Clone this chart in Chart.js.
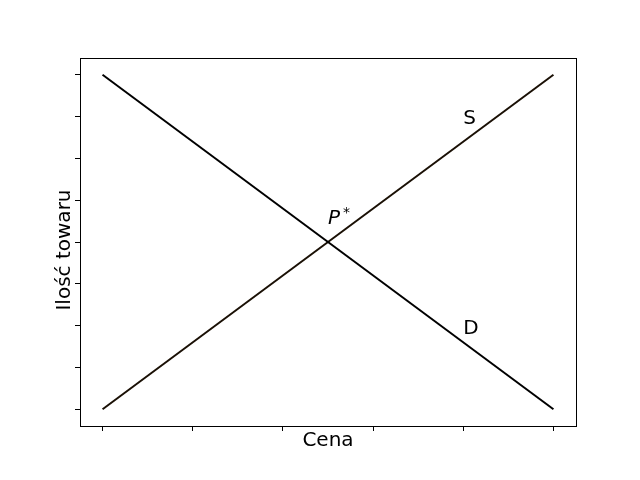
<!DOCTYPE html>
<html>
<head>
<meta charset="utf-8">
<script src="https://cdn.jsdelivr.net/npm/chart.js@4/dist/chart.umd.min.js"></script>
<style>
  body { margin: 0; background: #fff; }
  #wrap { width: 640px; height: 480px; }
</style>
</head>
<body>
<div id="wrap"><canvas id="chart" width="640" height="480"></canvas></div>
<script>
// Supply / demand data
const price = [0, 10];
const demand = [8, 0];
const supply = [0, 8];

const xTicks = [0, 2, 4, 6, 8, 10];
const yTicks = [0, 1, 2, 3, 4, 5, 6, 7, 8];

// curve labels: [text, x, y] in data units (baseline)
const curveLabels = [
    ['S', 8, 6.82],
    ['D', 8, 1.8]
];
const eqLabel = { x: 5, y: 4.42 };

const xTitle = 'Cena';
const yTitle = 'Ilość towaru';

const FONT = '"DejaVu Sans", sans-serif';

// Frame, labels and axis titles
const decorPlugin = {
    id: 'decor',
    afterDraw(chart) {
        const ctx = chart.ctx;
        const area = chart.chartArea;
        const xs = chart.scales.x;
        const ys = chart.scales.y;

        ctx.save();
        ctx.strokeStyle = '#000';
        ctx.lineWidth = 1;
        ctx.strokeRect(Math.round(area.left) + 0.5, Math.round(area.top) + 0.5,
            Math.round(area.right - area.left), Math.round(area.bottom - area.top));

        ctx.fillStyle = '#000';
        ctx.font = '20px ' + FONT;
        ctx.textBaseline = 'alphabetic';
        ctx.textAlign = 'left';
        curveLabels.forEach(([t, x, y]) => {
            ctx.fillText(t, xs.getPixelForValue(x), ys.getPixelForValue(y));
        });

        // P* label
        const px = xs.getPixelForValue(eqLabel.x);
        const py = ys.getPixelForValue(eqLabel.y);
        ctx.font = 'italic 20px ' + FONT;
        ctx.fillText('P', px, py);
        const pw = ctx.measureText('P').width;
        ctx.font = '14px ' + FONT;
        ctx.fillText('*', px + pw + 3, py - 7);

        // axis titles
        ctx.font = '20px ' + FONT;
        ctx.textAlign = 'center';
        ctx.textBaseline = 'alphabetic';
        ctx.fillText(xTitle, (area.left + area.right) / 2, 446);
        ctx.translate(70, 250);
        ctx.rotate(-Math.PI / 2);
        ctx.fillText(yTitle, 0, 0);
        ctx.restore();
    }
};

const axisCommon = {
    type: 'linear',
    grid: {
        display: true,
        drawOnChartArea: false,
        drawTicks: true,
        tickLength: 5,
        tickWidth: 1,
        tickColor: '#000'
    },
    border: { display: true, color: '#000', width: 1 },
    ticks: { callback: () => '', padding: 0 }
};

new Chart(document.getElementById('chart'), {
    type: 'scatter',
    data: {
        datasets: [
            {
                label: 'D',
                data: price.map((p, i) => ({ x: p, y: demand[i] })),
                showLine: true,
                borderColor: '#000',
                borderWidth: 2,
                pointRadius: 0
            },
            {
                label: 'S',
                data: price.map((p, i) => ({ x: p, y: supply[i] })),
                showLine: true,
                borderColor: '#1a1005',
                borderWidth: 2,
                pointRadius: 0
            }
        ]
    },
    options: {
        responsive: false,
        animation: false,
        layout: { padding: { top: 58, right: 64, left: 0, bottom: 0 } },
        plugins: {
            legend: { display: false },
            tooltip: { enabled: false }
        },
        scales: {
            x: {
                ...axisCommon,
                min: -0.5,
                max: 10.5,
                afterBuildTicks: s => { s.ticks = xTicks.map(v => ({ value: v })); },
                afterFit: s => { s.height = 54; }
            },
            y: {
                ...axisCommon,
                min: -0.4,
                max: 8.4,
                afterBuildTicks: s => { s.ticks = yTicks.map(v => ({ value: v })); },
                afterFit: s => { s.width = 80; }
            }
        }
    },
    plugins: [decorPlugin]
});
</script>
</body>
</html>
